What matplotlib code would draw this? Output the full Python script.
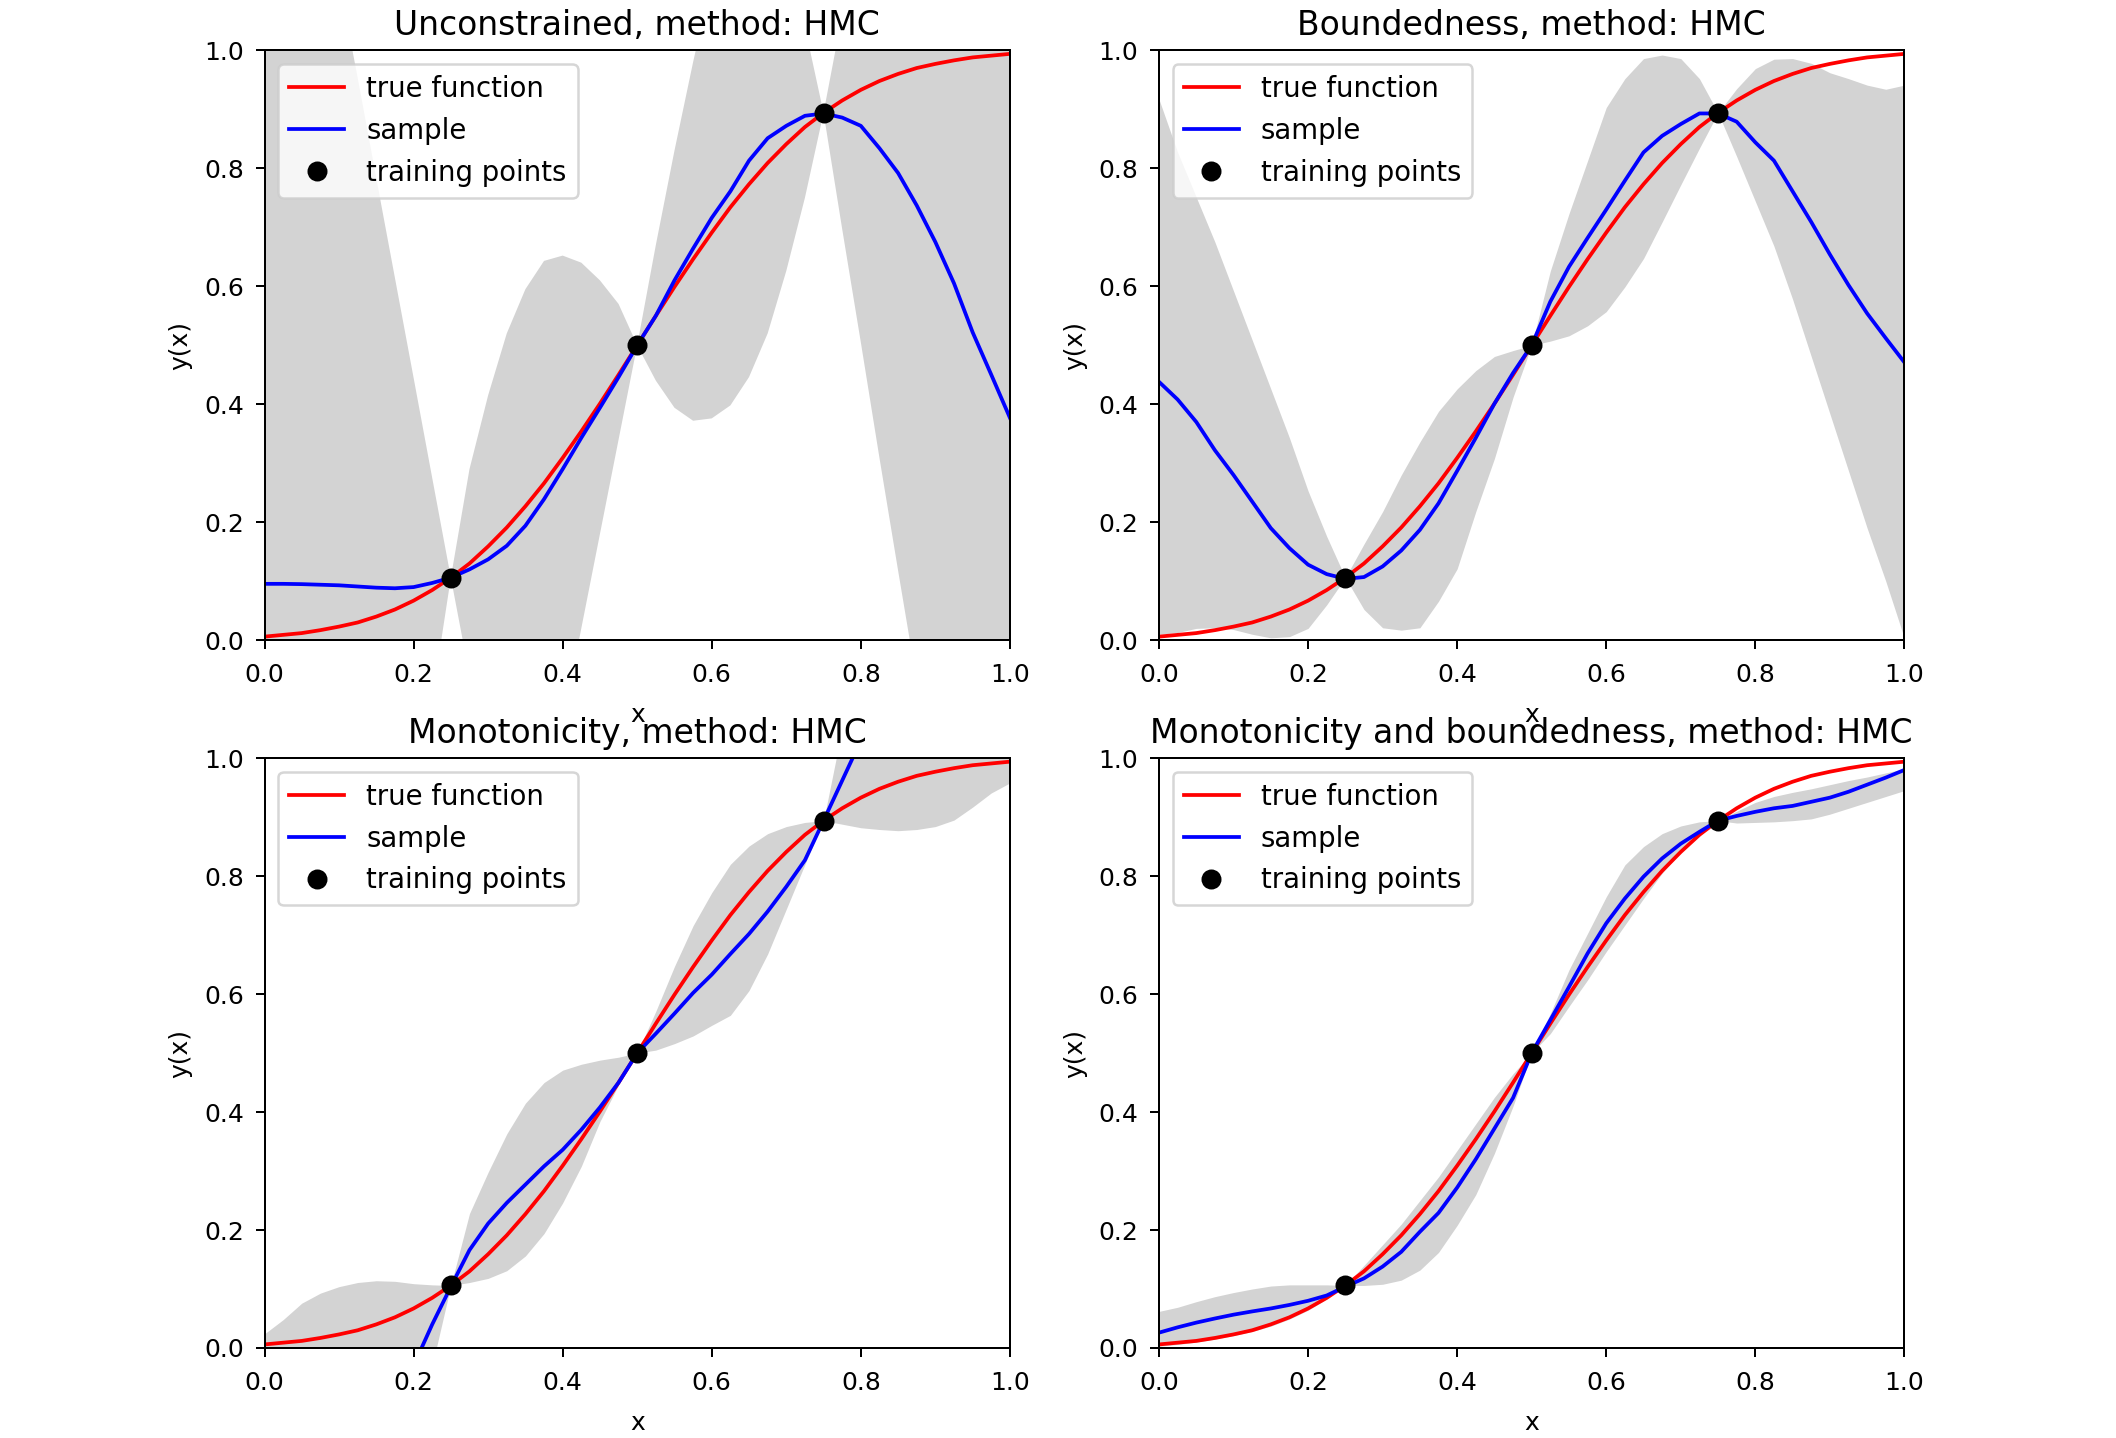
import matplotlib

matplotlib.use("Agg")
import matplotlib.pyplot as plt
import numpy as np

# x grid shared by every curve (step 0.025)
x_grid = np.linspace(0.0, 1.0, 41)

true_function = [
    0.006, 0.009, 0.012, 0.017, 0.023, 0.030, 0.040, 0.052, 0.067, 0.085, 0.106,
    0.130, 0.159, 0.191, 0.227, 0.266, 0.309, 0.354, 0.401, 0.450, 0.500,
    0.550, 0.599, 0.646, 0.691, 0.734, 0.773, 0.809, 0.841, 0.870, 0.894,
    0.915, 0.933, 0.948, 0.960, 0.970, 0.977, 0.983, 0.988, 0.991, 0.994,
]

train_x = [0.25, 0.5, 0.75]
train_y = [0.106, 0.5, 0.894]

titles = [
    "Unconstrained, method: HMC",
    "Boundedness, method: HMC",
    "Monotonicity, method: HMC",
    "Monotonicity and boundedness, method: HMC",
]

# unconstrained
p1_lower = [
    -1.9, -1.7, -1.5, -1.3, -1.1, -0.91, -0.71, -0.5, -0.3, -0.1, 0.106,
    -0.06, -0.22, -0.3, -0.35, -0.3, -0.14, 0.02, 0.18, 0.34, 0.5,
    0.44, 0.394, 0.372, 0.376, 0.398, 0.446, 0.52, 0.626, 0.75, 0.894,
    0.697, 0.505, 0.309, 0.118, -0.07, -0.26, -0.45, -0.64, -0.83, -1.0,
]
p1_upper = [
    1.8, 1.63, 1.46, 1.29, 1.12, 0.953, 0.783, 0.614, 0.445, 0.275, 0.106,
    0.29, 0.415, 0.52, 0.595, 0.643, 0.652, 0.64, 0.61, 0.57, 0.5,
    0.67, 0.83, 0.98, 1.12, 1.2, 1.25, 1.25, 1.2, 1.04, 0.894,
    1.06, 1.2, 1.35, 1.5, 1.62, 1.74, 1.85, 1.95, 2.05, 2.15,
]
p1_sample = [
    0.0955, 0.0955, 0.095, 0.094, 0.093, 0.091, 0.089, 0.088, 0.09, 0.097, 0.106,
    0.12, 0.137, 0.16, 0.194, 0.239, 0.29, 0.343, 0.394, 0.446, 0.5,
    0.55, 0.61, 0.664, 0.716, 0.761, 0.813, 0.851, 0.872, 0.889, 0.893,
    0.886, 0.872, 0.834, 0.792, 0.737, 0.675, 0.605, 0.522, 0.45, 0.377,
]

# boundedness
p2_lower = [
    0.01, 0.013, 0.02, 0.021, 0.018, 0.01, 0.004, 0.006, 0.02, 0.06, 0.106,
    0.052, 0.021, 0.017, 0.021, 0.066, 0.121, 0.218, 0.308, 0.412, 0.5,
    0.507, 0.516, 0.533, 0.557, 0.599, 0.647, 0.709, 0.772, 0.834, 0.894,
    0.82, 0.744, 0.668, 0.578, 0.481, 0.384, 0.287, 0.19, 0.1, 0.003,
]
p2_upper = [
    0.917, 0.827, 0.751, 0.675, 0.592, 0.509, 0.426, 0.343, 0.253, 0.176, 0.106,
    0.163, 0.218, 0.28, 0.336, 0.388, 0.426, 0.457, 0.481, 0.491, 0.5,
    0.626, 0.723, 0.813, 0.903, 0.952, 0.986, 0.992, 0.986, 0.952, 0.894,
    0.935, 0.969, 0.985, 0.986, 0.978, 0.962, 0.952, 0.941, 0.934, 0.941,
]
p2_sample = [
    0.438, 0.408, 0.37, 0.322, 0.28, 0.235, 0.19, 0.156, 0.128, 0.112, 0.104,
    0.107, 0.125, 0.152, 0.187, 0.232, 0.287, 0.343, 0.401, 0.453, 0.5,
    0.574, 0.633, 0.682, 0.73, 0.779, 0.827, 0.855, 0.875, 0.893, 0.893,
    0.879, 0.844, 0.813, 0.761, 0.709, 0.654, 0.602, 0.554, 0.512, 0.471,
]

# monotonicity
p3_lower = [
    -0.3, -0.28, -0.26, -0.24, -0.22, -0.2, -0.18, -0.15, -0.1, -0.03, 0.106,
    0.111, 0.118, 0.131, 0.156, 0.194, 0.246, 0.308, 0.384, 0.446, 0.5,
    0.505, 0.516, 0.529, 0.547, 0.564, 0.606, 0.668, 0.744, 0.82, 0.894,
    0.888, 0.882, 0.879, 0.877, 0.879, 0.884, 0.895, 0.917, 0.941, 0.958,
]
p3_upper = [
    0.024, 0.048, 0.076, 0.093, 0.104, 0.111, 0.114, 0.113, 0.109, 0.107, 0.106,
    0.228, 0.298, 0.363, 0.415, 0.45, 0.471, 0.481, 0.488, 0.493, 0.5,
    0.571, 0.647, 0.716, 0.772, 0.82, 0.851, 0.872, 0.884, 0.891, 0.894,
    1.05, 1.15, 1.2, 1.25, 1.3, 1.3, 1.3, 1.3, 1.3, 1.3,
]
p3_sample = [
    -0.55, -0.49, -0.43, -0.37, -0.31, -0.25, -0.19, -0.12, -0.03, 0.04, 0.104,
    0.166, 0.211, 0.246, 0.277, 0.308, 0.336, 0.37, 0.408, 0.45, 0.5,
    0.533, 0.567, 0.602, 0.633, 0.668, 0.702, 0.74, 0.782, 0.827, 0.894,
    0.962, 1.03, 1.1, 1.17, 1.24, 1.31, 1.38, 1.45, 1.52, 1.59,
]

# monotonicity and boundedness
p4_lower = [
    0.003, 0.006, 0.01, 0.015, 0.021, 0.028, 0.037, 0.049, 0.064, 0.083, 0.106,
    0.106, 0.108, 0.115, 0.132, 0.162, 0.208, 0.26, 0.33, 0.41, 0.5,
    0.533, 0.579, 0.624, 0.672, 0.717, 0.762, 0.805, 0.841, 0.872, 0.894,
    0.89, 0.891, 0.892, 0.894, 0.897, 0.905, 0.915, 0.925, 0.935, 0.945,
]
p4_upper = [
    0.062, 0.069, 0.0785, 0.087, 0.094, 0.1, 0.105, 0.107, 0.107, 0.107, 0.106,
    0.14, 0.175, 0.21, 0.25, 0.29, 0.335, 0.38, 0.425, 0.465, 0.5,
    0.567, 0.641, 0.703, 0.765, 0.819, 0.85, 0.872, 0.885, 0.892, 0.894,
    0.91, 0.925, 0.935, 0.942, 0.948, 0.955, 0.962, 0.968, 0.975, 0.982,
]
p4_sample = [
    0.026, 0.035, 0.043, 0.05, 0.0565, 0.062, 0.067, 0.073, 0.08, 0.089, 0.104,
    0.118, 0.138, 0.163, 0.197, 0.229, 0.272, 0.32, 0.372, 0.424, 0.5,
    0.556, 0.612, 0.669, 0.72, 0.762, 0.799, 0.83, 0.855, 0.875, 0.894,
    0.902, 0.909, 0.915, 0.919, 0.926, 0.933, 0.943, 0.955, 0.967, 0.98,
]

panels = [
    (p1_lower, p1_upper, p1_sample),
    (p2_lower, p2_upper, p2_sample),
    (p3_lower, p3_upper, p3_sample),
    (p4_lower, p4_upper, p4_sample),
]

fig, axes = plt.subplots(2, 2, figsize=(2116 / 180, 1438 / 180), dpi=180)
fig.subplots_adjust(left=0.125, right=0.9, top=0.965, bottom=0.0626,
                    wspace=0.2, hspace=0.2)

for ax, title, (lower, upper, sample) in zip(axes.flat, titles, panels):
    ax.fill_between(x_grid, lower, upper, color="lightgrey", linewidth=0)
    ax.plot(x_grid, true_function, "r", lw=1.5, label="true function")
    ax.plot(x_grid, sample, "b", lw=1.5, label="sample")
    ax.plot(train_x, train_y, "ko", ms=7, label="training points")
    ax.set_xlim(0, 1)
    ax.set_ylim(0, 1)
    ax.tick_params(axis="x", pad=5.6)
    ax.tick_params(axis="y", pad=4.8)
    ax.set_xlabel("x", labelpad=6.4)
    ax.set_ylabel("y(x)", labelpad=4.5)
    ax.set_title(title, fontsize=13.2)
    ax.legend(loc="upper left", fontsize=11)

fig.savefig("out.png", dpi=180)
